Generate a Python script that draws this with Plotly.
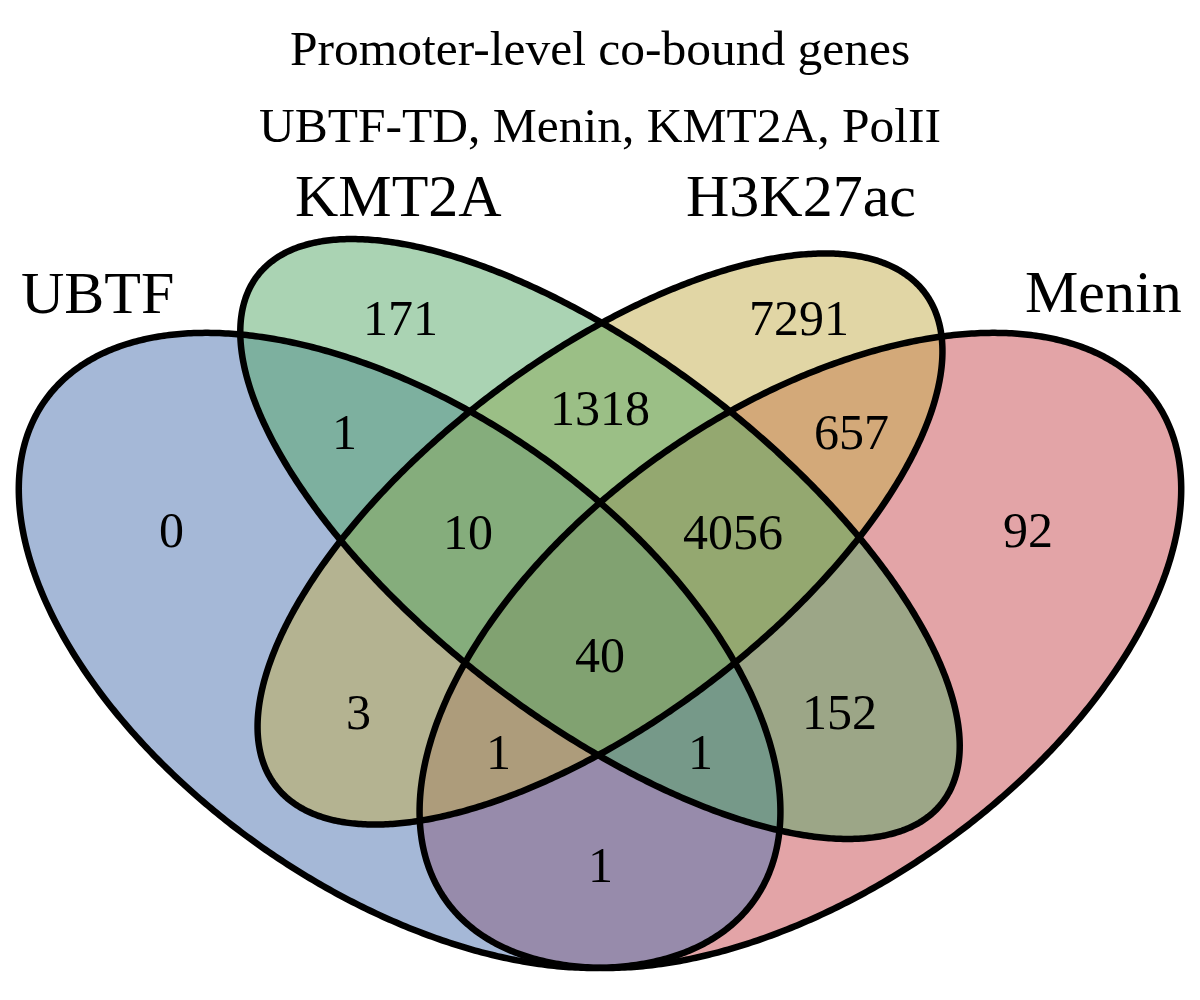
import numpy as np
import plotly.graph_objects as go

# set names, in drawing order (fills are stacked in this order)
set_names = ['Menin', 'UBTF', 'H3K27ac', 'KMT2A']
set_colors = ['#C84A50', '#4C72B0', '#C3AD4B', '#55A868']

# region counts, keyed by which sets (UBTF, KMT2A, H3K27ac, Menin) are in it
region_keys = ['1000', '0100', '0010', '0001',
               '1100', '0110', '0011', '1110', '0111',
               '1111', '1010', '0101', '1011', '1101', '1001']
region_counts = [0, 171, 7291, 92,
                 1, 1318, 657, 10, 4056,
                 40, 3, 152, 1, 1, 1]

title_lines = ['Promoter-level co-bound genes', 'UBTF-TD, Menin, KMT2A, PolII']

# ellipse geometry (VennDiagram quad layout, npc units): cx, cy, a, b, rotation
ellipses = {
    'Menin':   (0.65, 0.47, 0.35, 0.20, 45),
    'UBTF':    (0.35, 0.47, 0.35, 0.20, 135),
    'H3K27ac': (0.50, 0.57, 0.33, 0.15, 45),
    'KMT2A':   (0.50, 0.57, 0.35, 0.15, 135),
}

label_pos = {
    '1000': (0.1796, 0.5781), '0100': (0.3503, 0.7684), '0010': (0.6490, 0.7684),
    '0001': (0.8204, 0.5781), '1100': (0.3091, 0.6661), '0110': (0.5000, 0.6876),
    '0011': (0.6886, 0.6661), '1110': (0.4012, 0.5763), '0111': (0.5996, 0.5763),
    '1111': (0.5000, 0.4659), '1010': (0.3189, 0.4147), '0101': (0.6796, 0.4147),
    '1011': (0.4237, 0.3788), '1101': (0.5749, 0.3788), '1001': (0.5000, 0.2774),
}
name_pos = {
    'UBTF': (0.1235, 0.7908), 'KMT2A': (0.3488, 0.8779),
    'H3K27ac': (0.6504, 0.8779), 'Menin': (0.8772, 0.7917),
}
title_y = [1.0105, 0.9410]

# npc -> pixel scale; page body has an 8px margin, so ranges are shifted by it
SX, SY = 1336.0, 1114.0
x_range = [0.5 + (8 - 600) / SX, 0.5 + (1208 - 600) / SX]
y_range = [0.57 - (1008 - 539) / SY, 0.57 + (539 - 8) / SY]


def ellipse_xy(cx, cy, a, b, rot, n=720):
    t = np.linspace(0, 2 * np.pi, n)
    th = np.deg2rad(rot)
    x = cx + a * np.cos(t) * np.cos(th) - b * np.sin(t) * np.sin(th)
    y = cy + a * np.cos(t) * np.sin(th) + b * np.sin(t) * np.cos(th)
    return x, y


def rgba(hex_color, alpha):
    h = hex_color.lstrip('#')
    r, g, b = int(h[0:2], 16), int(h[2:4], 16), int(h[4:6], 16)
    return f'rgba({r},{g},{b},{alpha})'


fig = go.Figure()

# fills first
for name, col in zip(set_names, set_colors):
    x, y = ellipse_xy(*ellipses[name])
    fig.add_trace(go.Scatter(x=x, y=y, mode='lines', fill='toself',
                             fillcolor=rgba(col, 0.5),
                             line=dict(width=0, simplify=False),
                             hoverinfo='skip', showlegend=False))
# then outlines
for name in set_names:
    x, y = ellipse_xy(*ellipses[name])
    fig.add_trace(go.Scatter(x=x, y=y, mode='lines',
                             line=dict(color='black', width=6.5, simplify=False),
                             hoverinfo='skip', showlegend=False))

serif = 'Liberation Serif, Times New Roman, serif'

for key, cnt in zip(region_keys, region_counts):
    lx, ly = label_pos[key]
    fig.add_annotation(x=lx, y=ly, text=str(cnt), showarrow=False,
                       xanchor='center', yanchor='middle',
                       font=dict(family=serif, size=50, color='black'))

for name in set_names:
    nx, ny = name_pos[name]
    fig.add_annotation(x=nx, y=ny, text=name, showarrow=False,
                       xanchor='center', yanchor='middle',
                       font=dict(family=serif, size=60, color='black'))

for line, ty in zip(title_lines, title_y):
    fig.add_annotation(x=0.5, y=ty, text=line, showarrow=False,
                       xanchor='center', yanchor='middle',
                       font=dict(family=serif, size=49.5, color='black'))

fig.update_layout(
    width=1200, height=1000,
    margin=dict(l=0, r=0, t=0, b=0),
    paper_bgcolor='white', plot_bgcolor='white',
    xaxis=dict(range=x_range, visible=False, fixedrange=True),
    yaxis=dict(range=y_range, visible=False, fixedrange=True),
)

fig.write_html('out.html')
